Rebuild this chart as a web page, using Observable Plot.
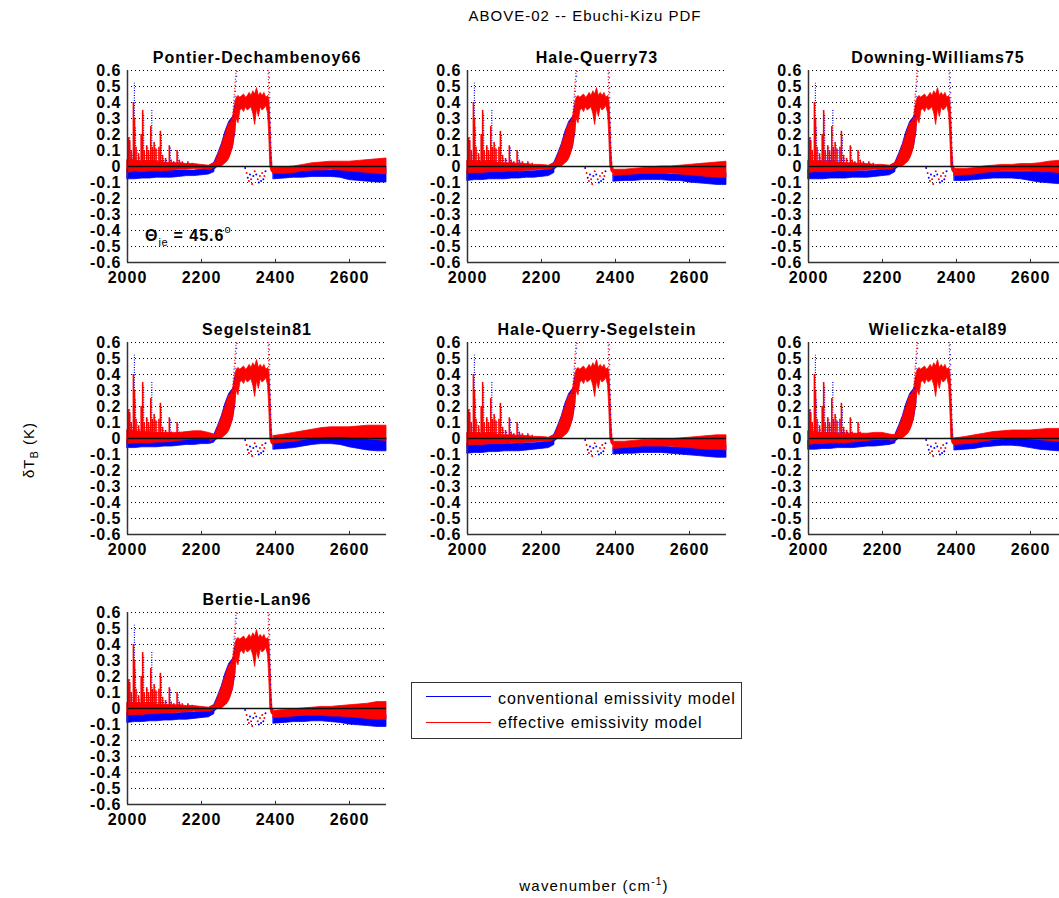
<!DOCTYPE html>
<html><head><meta charset="utf-8">
<script src="https://cdn.jsdelivr.net/npm/d3@7"></script>
<script src="https://cdn.jsdelivr.net/npm/@observablehq/plot@0.6"></script>
<style>
body{margin:0;background:#fff;}
#fig{position:relative;width:1059px;height:898px;overflow:hidden;background:#fff;font-family:"Liberation Sans",Arial,sans-serif;color:#000;}
.abs{position:absolute;white-space:nowrap;}
.panel{position:absolute;width:309px;height:252px;}
.panel svg{max-width:none !important;width:309px;height:252px;}
#legend{position:absolute;left:411px;top:682px;width:329px;height:55px;border:1px solid #333;background:#fff;}
.lg-line{position:absolute;left:14px;width:65px;height:1.3px;}
.lg-text{position:absolute;left:86px;font-size:16px;letter-spacing:0.9px;line-height:18px;}
#theta{font-size:16px;font-weight:bold;letter-spacing:1px;line-height:16px;}
#theta sub{font-size:11px;vertical-align:-5px;font-weight:normal;letter-spacing:0.5px;}
#theta sup{font-size:11px;vertical-align:8px;font-weight:normal;line-height:0;}
</style></head><body><div id="fig"></div><script>
// ---------- data ----------
const panelNames = ["Pontier-Dechambenoy66","Hale-Querry73","Downing-Williams75","Segelstein81","Hale-Querry-Segelstein","Wieliczka-etal89","Bertie-Lan96"];
const xTicks = [2000, 2200, 2400, 2600];
const yTicks = [-0.6,-0.5,-0.4,-0.3,-0.2,-0.1,0,0.1,0.2,0.3,0.4,0.5,0.6];

// baseline grid (left continuum and right tail), cm^-1
const wnBase = [2000,2020,2040,2060,2080,2100,2120,2140,2160,2180,2200,2220,2235, 2395,2425,2450,2475,2500,2525,2550,2575,2600,2625,2650,2675,2700];

// Pontier-Dechambenoy66
const redLo_PD  = [-0.04,-0.03,-0.035,-0.03,-0.03,-0.03,-0.025,-0.02,-0.02,-0.015,-0.015,-0.02,-0.01, -0.045,-0.045,-0.04,-0.03,-0.025,-0.025,-0.02,-0.025,-0.03,-0.035,-0.04,-0.045,-0.05];
const redHi_PD  = [0.04,0.04,0.03,0.035,0.03,0.025,0.02,0.02,0.015,0.015,0.01,0.005,0.02, -0.01,-0.005,0,0.01,0.02,0.025,0.03,0.03,0.03,0.035,0.04,0.045,0.05];
const blueLo_PD = [-0.08,-0.08,-0.075,-0.075,-0.07,-0.07,-0.07,-0.065,-0.06,-0.06,-0.055,-0.05,-0.035, -0.08,-0.075,-0.07,-0.07,-0.065,-0.065,-0.065,-0.07,-0.085,-0.09,-0.095,-0.1,-0.1];
const blueHi_PD = [-0.02,-0.025,-0.025,-0.025,-0.025,-0.025,-0.025,-0.025,-0.025,-0.025,-0.02,-0.015,0, -0.03,-0.035,-0.03,-0.03,-0.025,-0.025,-0.025,-0.02,-0.01,-0.005,-0.005,0,0];
// Hale-Querry73
const redLo_HQ  = [-0.045,-0.04,-0.04,-0.035,-0.035,-0.035,-0.03,-0.03,-0.025,-0.025,-0.02,-0.02,-0.01, -0.06,-0.055,-0.05,-0.045,-0.045,-0.045,-0.045,-0.05,-0.055,-0.06,-0.065,-0.07,-0.07];
const redHi_HQ  = [0.035,0.035,0.03,0.03,0.025,0.02,0.02,0.015,0.015,0.01,0.01,0.005,0.02, -0.02,-0.02,-0.015,-0.01,-0.005,0,0,0.005,0.01,0.015,0.02,0.025,0.03];
const blueLo_HQ = [-0.09,-0.085,-0.085,-0.08,-0.08,-0.08,-0.075,-0.075,-0.07,-0.07,-0.065,-0.06,-0.04, -0.095,-0.09,-0.09,-0.085,-0.085,-0.085,-0.09,-0.09,-0.1,-0.105,-0.11,-0.115,-0.115];
const blueHi_HQ = [-0.03,-0.035,-0.035,-0.035,-0.03,-0.03,-0.03,-0.03,-0.03,-0.03,-0.025,-0.02,0, -0.055,-0.05,-0.05,-0.045,-0.045,-0.045,-0.05,-0.05,-0.045,-0.045,-0.045,-0.04,-0.04];
// Downing-Williams75
const redLo_DW  = [-0.04,-0.035,-0.035,-0.035,-0.03,-0.03,-0.03,-0.025,-0.025,-0.02,-0.02,-0.02,-0.01, -0.06,-0.055,-0.05,-0.04,-0.035,-0.03,-0.03,-0.03,-0.03,-0.035,-0.035,-0.04,-0.04];
const redHi_DW  = [0.035,0.035,0.03,0.03,0.025,0.02,0.02,0.015,0.015,0.01,0.01,0.005,0.02, -0.015,-0.015,-0.01,0,0.005,0.01,0.01,0.015,0.015,0.02,0.03,0.035,0.035];
const blueLo_DW = [-0.08,-0.08,-0.08,-0.075,-0.075,-0.075,-0.07,-0.07,-0.07,-0.065,-0.06,-0.055,-0.035, -0.09,-0.09,-0.085,-0.08,-0.075,-0.075,-0.075,-0.08,-0.09,-0.1,-0.105,-0.11,-0.11];
const blueHi_DW = [-0.025,-0.03,-0.03,-0.03,-0.03,-0.03,-0.03,-0.03,-0.03,-0.025,-0.02,-0.015,0, -0.045,-0.045,-0.04,-0.035,-0.035,-0.035,-0.035,-0.035,-0.035,-0.03,-0.03,-0.03,-0.03];
// Segelstein81
const redLo_SG  = [-0.035,-0.03,-0.03,-0.03,-0.025,-0.025,-0.02,-0.015,-0.01,-0.005,-0.005,-0.005,-0.005, -0.03,-0.025,-0.02,-0.01,0,0.005,0.01,0.01,0.005,0,-0.005,-0.01,-0.015];
const redHi_SG  = [0.05,0.045,0.04,0.04,0.035,0.035,0.035,0.035,0.04,0.045,0.045,0.035,0.025, 0.015,0.025,0.035,0.045,0.055,0.065,0.07,0.07,0.07,0.075,0.08,0.08,0.08];
const blueLo_SG = [-0.06,-0.06,-0.055,-0.055,-0.055,-0.05,-0.05,-0.045,-0.04,-0.04,-0.035,-0.035,-0.025, -0.07,-0.065,-0.06,-0.05,-0.04,-0.035,-0.035,-0.04,-0.055,-0.065,-0.075,-0.08,-0.08];
const blueHi_SG = [-0.01,-0.015,-0.015,-0.015,-0.015,-0.01,-0.01,-0.01,-0.005,-0.005,-0.005,0,0.005, -0.015,-0.015,-0.01,0,0.005,0.01,0.01,0.01,0.005,0.005,0.005,0.005,0.005];
// Hale-Querry-Segelstein
const redLo_HQS  = [-0.045,-0.04,-0.04,-0.035,-0.035,-0.035,-0.03,-0.03,-0.025,-0.025,-0.02,-0.02,-0.01, -0.065,-0.06,-0.055,-0.05,-0.05,-0.05,-0.05,-0.055,-0.06,-0.065,-0.07,-0.07,-0.075];
const redHi_HQS  = [0.035,0.035,0.03,0.03,0.025,0.02,0.02,0.015,0.015,0.01,0.01,0.005,0.02, -0.02,-0.02,-0.015,-0.01,-0.01,-0.005,-0.005,0,0.005,0.01,0.015,0.02,0.02];
const blueLo_HQS = [-0.095,-0.09,-0.09,-0.085,-0.085,-0.08,-0.08,-0.08,-0.075,-0.07,-0.065,-0.06,-0.04, -0.1,-0.095,-0.095,-0.09,-0.09,-0.09,-0.095,-0.1,-0.105,-0.11,-0.115,-0.12,-0.12];
const blueHi_HQS = [-0.035,-0.04,-0.04,-0.035,-0.035,-0.035,-0.035,-0.03,-0.03,-0.03,-0.025,-0.02,0, -0.06,-0.055,-0.055,-0.05,-0.05,-0.05,-0.055,-0.055,-0.05,-0.05,-0.05,-0.045,-0.045];
// Wieliczka-etal89
const redLo_WE  = [-0.04,-0.035,-0.035,-0.03,-0.03,-0.03,-0.025,-0.02,-0.015,-0.01,-0.01,-0.01,-0.005, -0.04,-0.035,-0.03,-0.02,-0.01,-0.005,0,0,-0.005,-0.01,-0.015,-0.02,-0.02];
const redHi_WE  = [0.045,0.04,0.035,0.035,0.03,0.03,0.03,0.03,0.03,0.035,0.035,0.025,0.02, 0,0.01,0.02,0.03,0.04,0.045,0.05,0.05,0.05,0.055,0.06,0.06,0.06];
const blueLo_WE = [-0.07,-0.07,-0.065,-0.065,-0.06,-0.06,-0.06,-0.055,-0.05,-0.05,-0.045,-0.04,-0.03, -0.075,-0.07,-0.065,-0.055,-0.05,-0.045,-0.045,-0.05,-0.06,-0.07,-0.075,-0.08,-0.08];
const blueHi_WE = [-0.015,-0.02,-0.02,-0.02,-0.02,-0.015,-0.015,-0.015,-0.01,-0.01,-0.01,-0.005,0, -0.025,-0.025,-0.02,-0.015,-0.01,-0.005,0,0,0,-0.005,-0.005,-0.005,-0.005];
// Bertie-Lan96
const redLo_BL  = [-0.045,-0.04,-0.04,-0.035,-0.035,-0.03,-0.03,-0.025,-0.025,-0.02,-0.02,-0.02,-0.01, -0.06,-0.055,-0.05,-0.045,-0.045,-0.045,-0.05,-0.05,-0.055,-0.06,-0.065,-0.07,-0.07];
const redHi_BL  = [0.035,0.035,0.03,0.03,0.025,0.025,0.02,0.02,0.015,0.015,0.01,0.005,0.02, -0.015,-0.01,-0.005,0,0.005,0.01,0.01,0.015,0.02,0.025,0.03,0.04,0.04];
const blueLo_BL = [-0.09,-0.085,-0.085,-0.08,-0.08,-0.075,-0.075,-0.07,-0.07,-0.065,-0.06,-0.055,-0.035, -0.095,-0.09,-0.085,-0.085,-0.08,-0.08,-0.085,-0.09,-0.1,-0.105,-0.11,-0.115,-0.115];
const blueHi_BL = [-0.03,-0.035,-0.035,-0.035,-0.03,-0.03,-0.03,-0.03,-0.025,-0.025,-0.02,-0.015,0, -0.05,-0.05,-0.045,-0.045,-0.04,-0.04,-0.04,-0.045,-0.045,-0.04,-0.04,-0.04,-0.04];

// CO2 band region (common to all panels), effective model envelope
const wnBand    = [2225,2230,2235,2240,2245,2250,2255,2260,2265,2270,2275,2280,2285,2290,2295,2300,2305,2310,2315,2320,2325,2330,2335,2340,2345,2350,2355,2360,2365,2370,2375,2380,2383,2386,2389,2392,2395];
const redBandLo = [-0.02,-0.01,-0.01,0,0,0,0,0.01,0.02,0.03,0.05,0.08,0.12,0.2,0.3,0.27,0.35,0.36,0.34,0.37,0.35,0.36,0.37,0.33,0.26,0.36,0.31,0.37,0.35,0.36,0.38,0.33,0.2,0,-0.03,-0.04,-0.045];
const redBandHi = [0.01,0.015,0.02,0.04,0.07,0.1,0.13,0.17,0.2,0.24,0.27,0.28,0.3,0.38,0.43,0.44,0.43,0.44,0.45,0.43,0.44,0.46,0.44,0.47,0.45,0.49,0.44,0.46,0.44,0.46,0.43,0.44,0.42,0.3,0.1,0,-0.01];
// conventional model on the rising wing
const wnRise     = [2225,2235,2245,2255,2265,2275,2285,2292];
const blueRiseLo = [-0.03,-0.02,0,0.01,0.03,0.06,0.12,0.22];
const blueRiseHi = [0.005,0.025,0.08,0.14,0.22,0.28,0.31,0.33];
// lines on the continuum (left)
const spikeWn   = [2003,2006,2010,2016,2019,2023,2030,2037,2041,2045,2052,2057,2063,2067,2072,2077,2085,2089,2095,2103,2113,2118,2125,2134,2140,2148,2163,2175];
const spikeRed  = [0.18,0.16,0.1,0.4,0.3,0.12,0.08,0.2,0.35,0.1,0.13,0.1,0.25,0.12,0.15,0.11,0.12,0.22,0.07,0.05,0.13,0.04,0.03,0.1,0.04,0.03,0.03,0.02];
const spikeBlue = [0.18,0.1,0.08,0.52,0.25,0.1,0.06,0.18,0.33,0.08,0.12,0.08,0.35,0.1,0.13,0.1,0.1,0.2,0.05,0.04,0.12,0.03,0.02,0.09,0.03,0.02,0.02,0.01];
// sparse (dotted) steep segments at the band edges
const edgeX1 = [2283, 2380];
const edgeY1 = [0.28, 0.62];
const edgeX2 = [2294, 2386];
const edgeY2 = [0.62, 0.02];
// scattered points inside the band, below zero
const dotWn    = [2318,2322,2325,2328,2331,2334,2337,2340,2344,2348,2352,2355,2358,2361,2364,2367,2370,2373];
const dotY     = [-0.01,-0.04,-0.07,-0.09,-0.05,-0.08,-0.11,-0.06,-0.03,-0.05,-0.08,-0.1,-0.06,-0.09,-0.04,-0.08,-0.06,-0.03];
const dotModel = ["c","e","c","e","c","e","e","c","e","c","e","c","e","c","e","c","e","c"];

const panelSeries = [
  [redLo_PD, redHi_PD, blueLo_PD, blueHi_PD],
  [redLo_HQ, redHi_HQ, blueLo_HQ, blueHi_HQ],
  [redLo_DW, redHi_DW, blueLo_DW, blueHi_DW],
  [redLo_SG, redHi_SG, blueLo_SG, blueHi_SG],
  [redLo_HQS, redHi_HQS, blueLo_HQS, blueHi_HQS],
  [redLo_WE, redHi_WE, blueLo_WE, blueHi_WE],
  [redLo_BL, redHi_BL, blueLo_BL, blueHi_BL]
];

// ---------- layout ----------
const colX = [127, 467, 808];
const rowY = [70, 342, 612];
const ML = 45, MT = 30, PW = 259, PH = 192;
const RED = "#ff0000", BLUE = "#0000ff";

function drawPanel(k) {
  const [rLo, rHi, bLo, bHi] = panelSeries[k];
  const base = wnBase.map((x, i) => ({x, rLo: rLo[i], rHi: rHi[i], bLo: bLo[i], bHi: bHi[i], side: x < 2300 ? "L" : "R"}));
  const band = wnBand.map((x, i) => ({x, lo: redBandLo[i], hi: redBandHi[i]}));
  const rise = wnRise.map((x, i) => ({x, lo: blueRiseLo[i], hi: blueRiseHi[i]}));
  const spikes = spikeWn.map((x, i) => ({x, r: spikeRed[i], b: spikeBlue[i]}));
  const edges = edgeX1.map((x1, i) => ({x1, y1: edgeY1[i], x2: edgeX2[i], y2: edgeY2[i]}));
  const scat = dotWn.map((x, i) => ({x, y: dotY[i], m: dotModel[i]}));
  return Plot.plot({
    width: ML + PW + 5, height: MT + PH + 30,
    marginLeft: ML, marginRight: 5, marginTop: MT, marginBottom: 30,
    x: {domain: [2000, 2700], label: null},
    y: {domain: [-0.6, 0.6], label: null},
    style: {fontFamily: '"Liberation Sans", Arial, sans-serif', fontSize: "16px", fontWeight: "bold", letterSpacing: "1px", color: "#000", background: "transparent", overflow: "visible", maxWidth: "none"},
    marks: [
      Plot.ruleY(yTicks, {stroke: "#000", strokeWidth: 1, strokeDasharray: "1,3"}),
      // conventional (blue)
      Plot.areaY(base, {x: "x", y1: "bLo", y2: "bHi", z: "side", fill: BLUE, stroke: BLUE, strokeWidth: 0.8}),
      Plot.areaY(rise, {x: "x", y1: "lo", y2: "hi", fill: BLUE, stroke: BLUE, strokeWidth: 0.8}),
      Plot.ruleX(spikes, {x: "x", y1: 0, y2: "b", stroke: BLUE, strokeWidth: 1.2, strokeDasharray: "1,1.5", dx: 1, clip: true}),
      // effective (red)
      Plot.areaY(base, {x: "x", y1: "rLo", y2: "rHi", z: "side", fill: RED, stroke: RED, strokeWidth: 0.8}),
      Plot.areaY(band, {x: "x", y1: "lo", y2: "hi", fill: RED, stroke: RED, strokeWidth: 0.8}),
      Plot.ruleX(spikes, {x: "x", y1: 0, y2: "r", stroke: RED, strokeWidth: 1.6, clip: true}),
      Plot.link(edges, {x1: "x1", y1: "y1", x2: "x2", y2: "y2", stroke: RED, strokeWidth: 1.2, strokeDasharray: "1,2", clip: true}),
      Plot.link(edges, {x1: "x1", y1: "y1", x2: "x2", y2: "y2", stroke: BLUE, strokeWidth: 1.2, strokeDasharray: "1,4", dx: 1, clip: true}),
      Plot.dot(scat, {x: "x", y: "y", r: 1, fill: d => d.m === "c" ? BLUE : RED, stroke: "none"}),
      // zero line and axes
      Plot.ruleY([0], {stroke: "#111", strokeWidth: 1.3}),
      Plot.ruleX([2000], {stroke: "#333", strokeWidth: 1.5}),
      Plot.ruleY([-0.6], {stroke: "#333", strokeWidth: 1.5}),
      Plot.ruleX(xTicks.slice(1), {y1: -0.6, y2: -0.58, stroke: "#333", strokeWidth: 1}),
      Plot.axisX({ticks: xTicks, tickSize: 0, tickPadding: 9, tickFormat: d => String(d), label: null}),
      Plot.axisY({ticks: yTicks, tickSize: 0, tickPadding: 6, tickFormat: d => d === 0 ? "0" : d.toFixed(1), label: null}),
      Plot.text([panelNames[k]], {text: d => d, frameAnchor: "top", dy: -19, fontSize: 16, fontWeight: "bold", letterSpacing: "0.7px"})
    ]
  });
}

const fig = document.getElementById("fig");
const cols = [0, 1, 2, 0, 1, 2, 0];
const rows = [0, 0, 0, 1, 1, 1, 2];
panelNames.forEach((n, k) => {
  const svg = drawPanel(k);
  const wrap = document.createElement("div");
  wrap.className = "panel";
  wrap.style.left = (colX[cols[k]] - ML) + "px";
  wrap.style.top = (rowY[rows[k]] - MT) + "px";
  wrap.appendChild(svg);
  fig.appendChild(wrap);
});

function addDiv(html, css, id) {
  const d = document.createElement("div");
  d.className = "abs";
  if (id) d.id = id;
  d.innerHTML = html;
  Object.assign(d.style, css);
  fig.appendChild(d);
  return d;
}
// main title
addDiv("ABOVE-02 -- Ebuchi-Kizu PDF", {left: "585px", top: "7px", transform: "translateX(-50%)", fontSize: "15px", letterSpacing: "1px"});
// y label (rotated svg text)
addDiv(`<svg width="40" height="120" style="display:block;overflow:visible">
  <text transform="translate(26,60) rotate(-90)" text-anchor="middle" font-family="Liberation Sans, Arial, sans-serif" font-size="15" letter-spacing="1">δT<tspan font-size="11" dy="4">B</tspan><tspan dy="-4"> (K)</tspan></text>
</svg>`, {left: "8px", top: "390px"});
// x label
addDiv("wavenumber (cm<sup style='font-size:10px;vertical-align:6px;line-height:0'>-1</sup>)", {left: "594px", top: "877px", transform: "translateX(-50%)", fontSize: "15px", letterSpacing: "1.2px"});
// annotation in first panel
addDiv("Θ<sub>ie</sub> = 45.6<sup>o</sup>", {left: "145px", top: "228px"}, "theta");
// legend
const lg = document.createElement("div");
lg.id = "legend";
lg.innerHTML = `<div class="lg-line" style="top:13px;background:${BLUE}"></div>
<div class="lg-text" style="top:7px">conventional emissivity model</div>
<div class="lg-line" style="top:39px;background:${RED}"></div>
<div class="lg-text" style="top:31px">effective emissivity model</div>`;
fig.appendChild(lg);
</script></body></html>
